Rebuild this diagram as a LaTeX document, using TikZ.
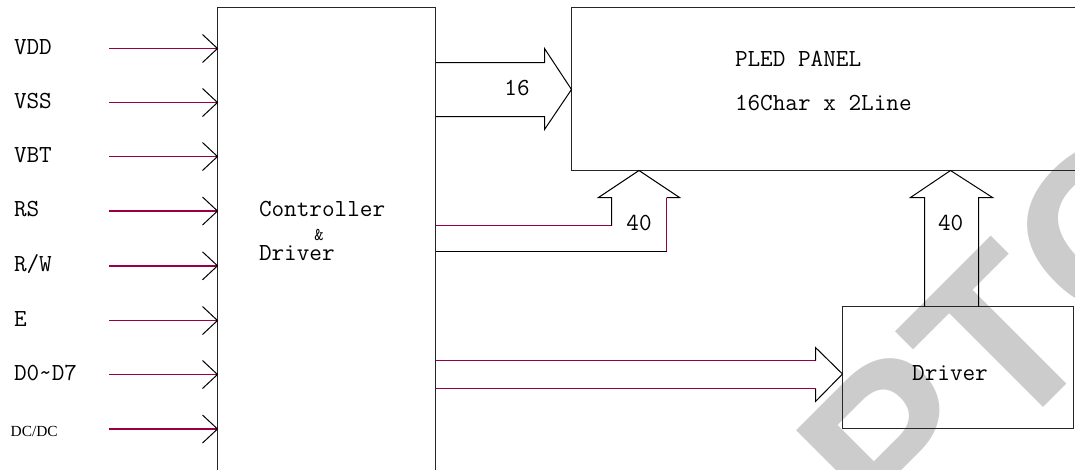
\documentclass[tikz,border=0pt]{standalone}
\usepackage{fontspec}
\setmainfont{Liberation Serif}
\newfontfamily\markfont{Liberation Sans}
\usepackage{xcolor}
\usetikzlibrary{arrows.meta, positioning}
\definecolor{wire}{RGB}{150,0,70}
\definecolor{mark}{RGB}{204,204,204}

\begin{document}
\begin{tikzpicture}[
    x=1pt, y=-1pt,
    line width=1pt,
    every node/.style={inner sep=0pt, outer sep=0pt},
    lbl/.style={font=\ttfamily\fontsize{24.5}{28}\selectfont},
    box/.style={rectangle, draw=black!85, line width=1pt},
    sig/.style={draw=wire, line width=1.4pt},
    chev/.style={draw=black, line width=1pt, line join=miter},
    bus/.style={draw=black, line join=miter},
    wm/.style={font=\markfont\bfseries\fontsize{230}{230}\selectfont, text=mark,
               anchor=base west, rotate=45},
]
\useasboundingbox (0,0) rectangle (1075,469);
\clip (0,0) rectangle (1075,469);
\fill[white] (0,0) rectangle (1075,469);
\node[wm] (mark) at (897.2,553.5) {PTC};

\node[box, minimum width=218pt, minimum height=480pt, anchor=north west] (ctrl) at (217.5,7.5) {};
\node[box, minimum width=520pt, minimum height=163pt, anchor=north west] (panel) at (571.5,7.5) {};
\node[box, minimum width=231pt, minimum height=122pt, anchor=north west] (drv) at (842.5,306.5) {};

\node[lbl, anchor=base west] (ctrltop) at (259,216.7) {Controller};
\node[font=\ttfamily\fontsize{18}{20}\selectfont] (amp) at (319,235) {\&};
\node[lbl, anchor=base west] (ctrlbot) at (259,260) {Driver};
\node[lbl, anchor=base west] (paneltop) at (735,66.7) {PLED PANEL};
\node[lbl, anchor=base west] (panelbot) at (735,110) {16Char x 2Line};
\node[lbl] (drvtxt) at (950,373.3) {Driver};

\foreach \name/\yy [count=\i from 0] in {VDD/48.5,VSS/102.5,VBT/156.5,RS/211,{R/W}/265.8,E/320.5,{D0\textasciitilde D7}/374.5}{
    \node[lbl, anchor=base west] (in\i) at (14,\yy+5.5) {\name};
    \coordinate (src\i) at (109,\yy);
}
\node[font=\fontsize{15.4}{18}\selectfont, anchor=base west] (in7) at (10.7,436.7) {DC/DC};
\coordinate (src7) at (109,429);
\foreach \i in {0,...,7}{
    \draw[sig] (src\i) -- (src\i -| ctrl.west);
    \draw[chev] (src\i -| ctrl.west) ++(-15,-14) -- ++(15,14) -- ++(-15,14);
}

\draw[bus] (ctrl.east |- 0,62.5) -- (544.5,62.5) -- (544.5,48.5) -- (panel.west |- 0,89.5)
    -- (544.5,129.5) -- (544.5,116.5) -- (ctrl.east |- 0,116.5);
\node[lbl] (w16) at (517,88.3) {16};

\draw[sig] (ctrl.east |- 0,225.5) -- (611.5,225.5);
\draw[bus] (611.5,225.5) -- (611.5,197.5) -- (598.5,197.5) -- (panel.south -| 639,0)
    -- (679.5,197.5) -- (666.5,197.5);
\draw[sig] (666.5,197.5) -- (666.5,251.5);
\draw[bus] (666.5,251.5) -- (ctrl.east |- 0,251.5);
\node[lbl] (w40a) at (639,223.3) {40};

\draw[bus] (drv.north -| 924.5,0) -- (924.5,197.5) -- (910.5,197.5) -- (panel.south -| 950.5,0)
    -- (992.5,197.5) -- (978.5,197.5) -- (drv.north -| 978.5,0);
\node[lbl] (w40b) at (950.7,223.3) {40};

\draw[sig] (ctrl.east |- 0,360.5) -- (815.5,360.5);
\draw[bus] (815.5,360.5) -- (815.5,347.5) -- (drv.west |- 0,374) -- (815.5,401.5) -- (815.5,388.5);
\draw[sig] (815.5,388.5) -- (ctrl.east |- 0,388.5);
\end{tikzpicture}
\end{document}
